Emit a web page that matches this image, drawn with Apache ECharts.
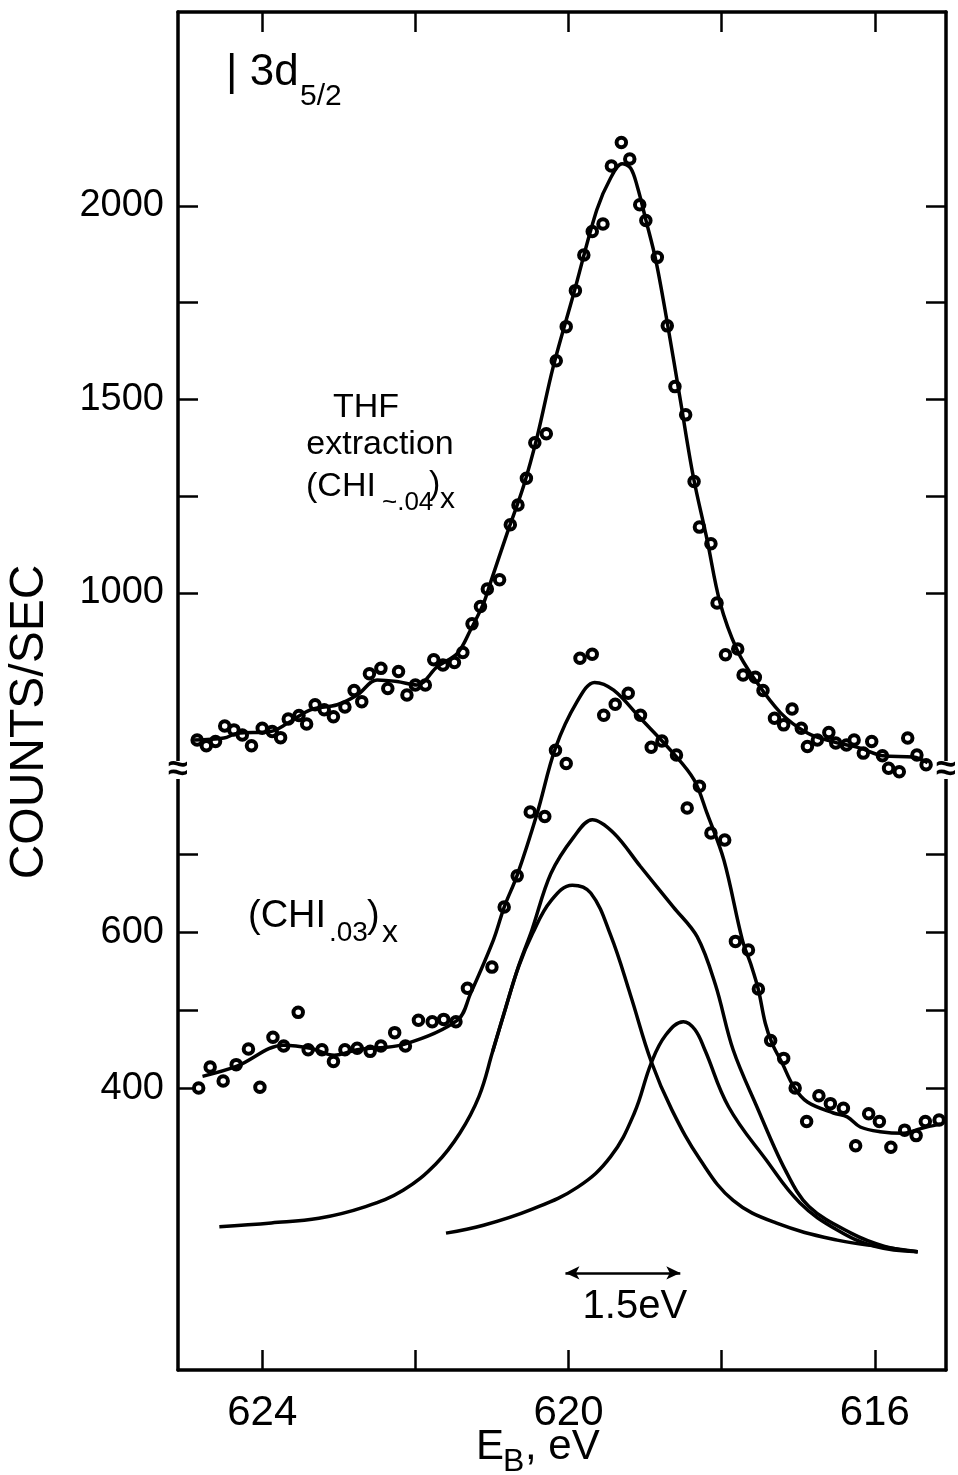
<!DOCTYPE html>
<html>
<head>
<meta charset="utf-8">
<script src="https://cdn.jsdelivr.net/npm/echarts@6/dist/echarts.min.js"></script>
<style>
  html, body { margin: 0; padding: 0; background: #fff; }
  #chart { width: 958px; height: 1475px; }
</style>
</head>
<body>
<div id="chart"></div>
<script>
// I 3d5/2 photoelectron spectra: binding energy (eV) against counts per second.

// Binding-energy axis
const xRange = [615.07, 625.1];
const xTicks = [624, 622, 620, 618, 616];
const xLabels = [624, 620, 616];

// Upper panel (THF extraction), counts/sec
const upperRange = [-1008, 2501];
const upperTicks = [1000, 1250, 1500, 1750, 2000];
const upperLabels = [1000, 1500, 2000];

// Lower panel ((CHI.03)x), counts/sec
const lowerRange = [38.5, 1779.5];
const lowerTicks = [400, 500, 600, 700];
const lowerLabels = [400, 600];

// THF extraction: measured points
const thfPoints = [
  [624.85,620],[624.73,605],[624.61,616],[624.49,656],[624.37,646],[624.26,633],[624.14,605],
  [624.00,650],[623.87,642],[623.76,626],[623.66,674],[623.52,683],[623.42,661],[623.31,711],
  [623.19,698],[623.07,680],[622.92,705],[622.80,748],[622.70,719],[622.60,791],[622.45,805],
  [622.36,753],[622.22,797],[622.11,736],[622.00,762],[621.87,762],[621.76,827],[621.64,814],
  [621.49,820],[621.38,846],[621.26,920],[621.15,965],[621.06,1010],[620.90,1034],[620.76,1176],
  [620.66,1227],[620.55,1296],[620.44,1388],[620.29,1411],[620.16,1600],[620.03,1688],[619.91,1781],
  [619.80,1873],[619.69,1934],[619.55,1953],[619.44,2103],[619.31,2164],[619.20,2121],[619.07,2003],
  [618.99,1962],[618.84,1867],[618.71,1690],[618.61,1533],[618.47,1460],[618.36,1288],[618.29,1170],
  [618.14,1127],[618.06,974],[617.95,840],[617.79,855],[617.72,788],[617.56,782],[617.46,748],
  [617.31,676],[617.19,659],[617.08,700],[616.96,650],[616.88,603],[616.75,620],[616.60,639],
  [616.51,612],[616.37,607],[616.27,620],[616.15,586],[616.04,616],[615.90,579],[615.82,547],
  [615.68,538],[615.57,625],[615.45,581],[615.33,556]
];

// THF extraction: smoothed curve
const thfFit = [
  [624.89,620],[624.50,625],[624.33,637],[623.89,642],[623.67,663],[623.37,698],[623.02,711],
  [622.76,736],[622.50,775],[622.24,771],[621.98,762],[621.71,810],[621.45,844],[621.28,904],
  [621.11,973],[621.02,1026],[620.80,1155],[620.59,1274],[620.41,1403],[620.20,1584],[619.93,1775],
  [619.63,1990],[619.45,2072],[619.30,2109],[619.19,2098],[619.10,2049],[618.99,1964],[618.86,1860],
  [618.71,1698],[618.54,1499],[618.37,1300],[618.19,1137],[618.02,974],[617.80,853],[617.58,780],
  [617.23,690],[616.88,638],[616.54,615],[616.19,599],[615.89,579],[615.50,576],[615.31,561]
];

// (CHI.03)x: measured points
const chiPoints = [
  [624.83,400],[624.68,427],[624.51,409],[624.34,430],[624.18,450],[624.03,401],[623.86,465],
  [623.72,454],[623.53,497],[623.40,449],[623.22,449],[623.07,434],[622.92,449],[622.76,451],
  [622.59,447],[622.45,454],[622.27,471],[622.13,454],[621.96,487],[621.78,485],[621.63,488],
  [621.47,485],[621.32,528],[621.00,555],[620.84,632],[620.67,672],[620.50,754],[620.31,748],
  [620.17,833],[620.03,816],[619.85,951],[619.69,956],[619.54,878],[619.39,892],[619.22,906],
  [619.06,878],[618.92,837],[618.78,845],[618.59,827],[618.45,759],[618.29,787],[618.14,727],
  [617.96,718],[617.82,588],[617.65,577],[617.52,527],[617.36,461],[617.19,438],[617.04,400],
  [616.89,357],[616.73,390],[616.58,380],[616.41,374],[616.25,326],[616.08,367],[615.94,357],
  [615.79,324],[615.61,346],[615.46,339],[615.34,357],[615.16,359]
];

// (CHI.03)x: smoothed curve
const chiFit = [
  [624.78,415],[624.33,428],[623.72,455],[623.37,451],[623.06,442],[622.76,449],[622.15,456],
  [621.45,487],[621.28,521],[620.98,590],[620.84,632],[620.67,673],[620.41,752],[620.17,836],
  [619.89,895],[619.66,920],[619.41,910],[619.06,874],[618.63,829],[618.36,795],[618.19,752],
  [617.97,692],[617.73,590],[617.61,556],[617.52,526],[617.43,483],[617.34,457],[617.21,432],
  [617.06,402],[616.88,382],[616.54,368],[616.36,363],[616.19,350],[615.93,344],[615.62,342],
  [615.40,348],[615.14,354]
];

// Decomposition: component near 620.0 eV
const peakA = [
  [624.56,222],[623.88,227],[623.26,233],[622.65,248],[622.16,269],[621.73,303],[621.42,342],
  [621.17,389],[620.99,447],[620.82,503],[620.65,556],[620.47,598],[620.23,640],[619.95,660],
  [619.71,650],[619.45,596],[619.19,519],[618.92,434],[618.65,372],[618.28,308],[617.85,256],
  [617.29,227],[616.49,205],[615.87,196],[615.44,190]
];

// Decomposition: component near 618.5 eV
const peakB = [
  [621.60,214],[621.11,224],[620.49,244],[619.88,273],[619.45,312],[619.14,368],[618.92,432],
  [618.73,468],[618.50,485],[618.35,475],[618.22,449],[617.91,376],[617.42,308],[616.98,253],
  [616.49,218],[616.00,197],[615.44,190]
];

// Decomposition: sum of both components (joins the 620.0 eV component on the low side)
const envelope = [
  [620.99,447],[620.82,503],[620.65,557],[620.48,602],[620.23,675],[619.93,722],[619.69,744],
  [619.41,727],[619.06,684],[618.63,632],[618.32,594],[618.08,532],[617.85,449],[617.54,376],
  [617.17,295],[616.86,248],[616.31,214],[615.87,197],[615.44,190]
];

// Energy scale bar (eV) drawn under the lower panel
const scaleBarStart = 620.04;
const scaleBarWidth = 1.5;
const scaleBarLevel = 163;

const FONT = 'Liberation Sans';
const INK = '#000';

const chart = echarts.init(document.getElementById('chart'), null, { renderer: 'canvas' });

const gridBox = { left: 178, right: 12, top: 12, bottom: 105 };

function xAxisDef(gridIndex, position, withLabels, visible) {
  return {
    gridIndex, type: 'value', inverse: true, position,
    min: xRange[0], max: xRange[1], show: visible,
    axisLine: { show: true, onZero: false, lineStyle: { color: INK, width: 3.5 } },
    axisTick: { show: true, inside: true, length: 20, customValues: xTicks,
                lineStyle: { color: INK, width: 2.5 } },
    axisLabel: { show: withLabels, customValues: xLabels, margin: 22,
                 formatter: v => String(v),
                 fontFamily: FONT, fontSize: 42, color: INK },
    splitLine: { show: false }
  };
}

function yAxisDef(gridIndex, position, range, ticks, labels, withLine, withLabels) {
  return {
    gridIndex, type: 'value', position, min: range[0], max: range[1],
    axisLine: { show: withLine, onZero: false, lineStyle: { color: INK, width: 3.5 } },
    axisTick: { show: true, inside: true, length: 20, customValues: ticks,
                lineStyle: { color: INK, width: 2.5 } },
    axisLabel: { show: withLabels, customValues: labels, margin: 14,
                 formatter: v => String(v),
                 fontFamily: FONT, fontSize: 38, color: INK },
    splitLine: { show: false }
  };
}

const pointStyle = { color: '#fff', borderColor: INK, borderWidth: 4, opacity: 1 };
const curveStyle = { color: INK, width: 3.5 };

function pointSeries(data, axis) {
  return { type: 'scatter', data, xAxisIndex: axis[0], yAxisIndex: axis[1],
           symbol: 'circle', symbolSize: 9.5, itemStyle: pointStyle, z: 2, silent: true };
}
function curveSeries(data, axis, smooth) {
  return { type: 'line', data, xAxisIndex: axis[0], yAxisIndex: axis[1],
           smooth, showSymbol: false, symbol: 'none', lineStyle: curveStyle, z: 3, silent: true };
}

function breakMark(x, y) {
  return [
    { type: 'rect', shape: { x: x - 7, y: y - 9, width: 14, height: 18 },
      style: { fill: '#fff' }, z: 100 },
    { type: 'text', x, y, z: 101,
      style: { text: '≈', font: `bold 36px "${FONT}"`, fill: INK,
               textAlign: 'center', textVerticalAlign: 'middle' } }
  ];
}

function txt(text, x, y, size, align) {
  return { type: 'text', x, y, z: 50,
           style: { text, font: `${size}px "${FONT}"`, fill: INK,
                    textAlign: align || 'left', textVerticalAlign: 'middle' } };
}

const option = {
  animation: false,
  backgroundColor: '#fff',
  grid: [Object.assign({}, gridBox), Object.assign({}, gridBox)],
  xAxis: [
    xAxisDef(0, 'bottom', true, true),
    xAxisDef(0, 'top', false, true),
    xAxisDef(1, 'bottom', false, false)
  ],
  yAxis: [
    yAxisDef(0, 'left', upperRange, upperTicks, upperLabels, true, true),
    yAxisDef(0, 'right', upperRange, upperTicks, upperLabels, true, false),
    yAxisDef(1, 'left', lowerRange, lowerTicks, lowerLabels, false, true),
    yAxisDef(1, 'right', lowerRange, lowerTicks, lowerLabels, false, false)
  ],
  series: [
    pointSeries(thfPoints, [0, 0]),
    curveSeries(thfFit, [0, 0], 0.35),
    pointSeries(chiPoints, [2, 2]),
    curveSeries(chiFit, [2, 2], 0.35),
    curveSeries(peakA, [2, 2], 0.4),
    curveSeries(peakB, [2, 2], 0.4),
    curveSeries(envelope, [2, 2], 0.35),
    {
      type: 'line', data: [], xAxisIndex: 2, yAxisIndex: 2, silent: true,
      markLine: {
        silent: true, symbol: ['arrow', 'arrow'], symbolSize: [10, 14],
        lineStyle: { color: INK, width: 2.5, type: 'solid' },
        label: { show: true, position: 'insideMiddleBottom', distance: 14, offset: [12, 0],
                 formatter: scaleBarWidth + 'eV', fontFamily: FONT, fontSize: 40, color: INK },
        data: [[{ coord: [scaleBarStart, scaleBarLevel] },
                { coord: [scaleBarStart - scaleBarWidth, scaleBarLevel] }]]
      }
    }
  ],
  graphic: [
    ...breakMark(178, 770),
    ...breakMark(946, 770),
    txt('| 3d', 226, 73, 44),
    txt('5/2', 300, 97, 30),
    txt('THF', 366, 408, 34, 'center'),
    txt('extraction', 380, 445, 34, 'center'),
    txt('(CHI', 306, 487, 34),
    txt('~.04', 382, 503, 26),
    txt(')', 429, 485, 34),
    txt('x', 440, 500, 30),
    txt('(CHI', 248, 917, 38),
    txt('.03', 329, 933, 28),
    txt(')', 367, 917, 38),
    txt('x', 382, 933, 32),
    { type: 'text', x: 30, y: 722, rotation: Math.PI / 2, z: 50,
      style: { text: 'COUNTS/SEC', font: `48px "${FONT}"`, fill: INK,
               textAlign: 'center', textVerticalAlign: 'middle' } },
    txt('E', 476, 1447, 42),
    txt('B', 503, 1462, 32),
    txt(', eV', 525, 1447, 42)
  ]
};

chart.setOption(option);
</script>
</body>
</html>
